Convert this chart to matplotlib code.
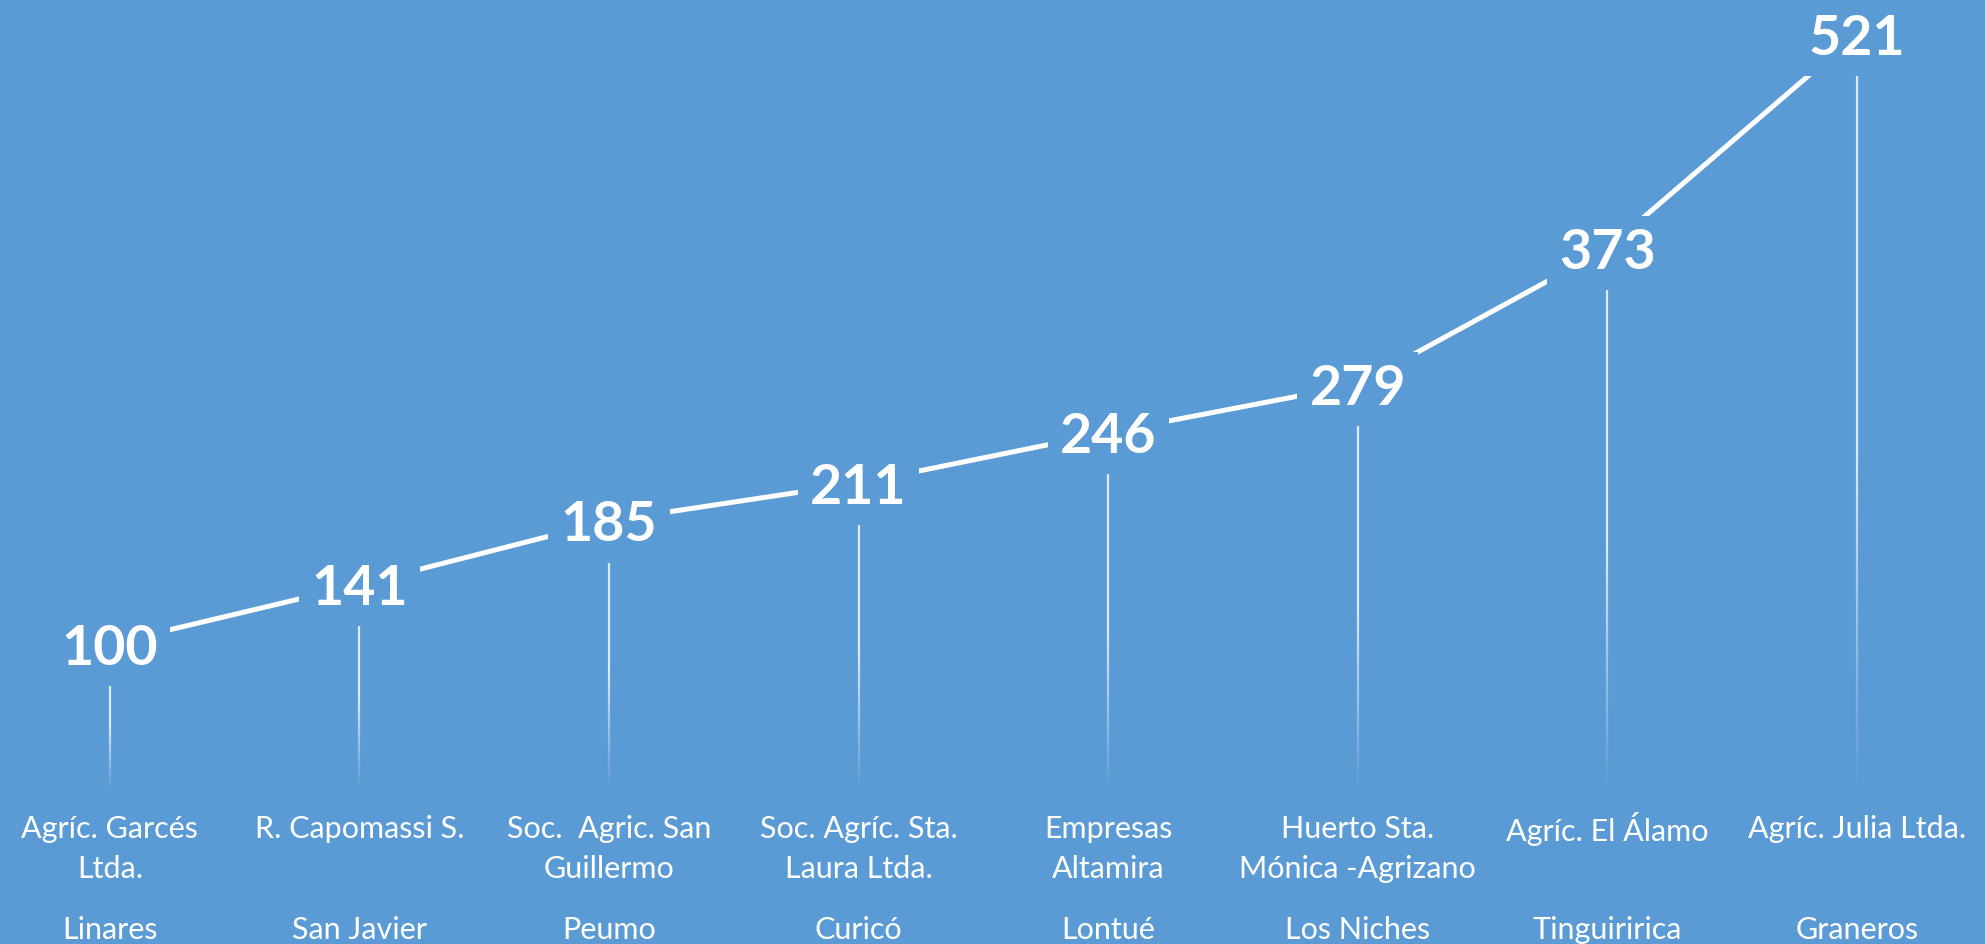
import numpy as np
import matplotlib
matplotlib.use("Agg")
import matplotlib.pyplot as plt
from matplotlib.collections import LineCollection
from matplotlib.transforms import blended_transform_factory

# ---- data ----
companies = ["Agríc. Garcés\nLtda.", "R. Capomassi S.", "Soc.  Agric. San\nGuillermo",
             "Soc. Agríc. Sta.\nLaura Ltda.", "Empresas\nAltamira", "Huerto Sta.\nMónica -Agrizano",
             "Agríc. El Álamo", "Agríc. Julia Ltda."]
cities = ["Linares", "San Javier", "Peumo", "Curicó", "Lontué", "Los Niches", "Tinguiririca", "Graneros"]
values = [100, 141, 185, 211, 246, 279, 373, 521]

BG = "#5B9BD5"
plt.rcParams['font.family'] = ['Lato', 'DejaVu Sans']

fig = plt.figure(figsize=(19.85, 9.44), dpi=100, facecolor=BG)
ax = fig.add_axes([0, 0, 1, 1])
ax.set_facecolor(BG)
ax.set_xlim(-0.44, 7.513)
ax.set_ylim(-107, 544.5)
ax.axis('off')

x = np.arange(len(values))

# main line
ax.plot(x, values, color='white', lw=3.6, zorder=2, solid_capstyle='butt')

# drop lines with fading gradient
n = 120
for xi, v in zip(x, values):
    ys = np.linspace(0, v, n + 1)
    segs = [[(xi, ys[k]), (xi, ys[k + 1])] for k in range(n)]
    t = (ys[:-1] + ys[1:]) / 2 / v
    alpha = np.clip(t / 0.45, 0, 1) * 0.8
    cols = [(1, 1, 1, a) for a in alpha]
    ax.add_collection(LineCollection(segs, colors=cols, linewidths=1.6, zorder=1))

# value labels
for xi, v in zip(x, values):
    ax.text(xi, v, str(v), color='white', fontsize=40, fontweight='bold',
            ha='center', va='center_baseline', zorder=3,
            bbox=dict(boxstyle='square,pad=0.22', facecolor=BG, edgecolor='none'))

# category labels
tr = blended_transform_factory(ax.transData, fig.transFigure)
row_y = [1 - 829 / 944, 1 - 869 / 944]
city_y = 1 - 930 / 944
for xi, name, city in zip(x, companies, cities):
    for k, line in enumerate(name.split("\n")):
        ax.text(xi, row_y[k], line, transform=tr, color='white', fontsize=22,
                ha='center', va='center')
    ax.text(xi, city_y, city, transform=tr, color='white', fontsize=22,
            ha='center', va='center')

fig.savefig("out.png", dpi=100, facecolor=BG)
